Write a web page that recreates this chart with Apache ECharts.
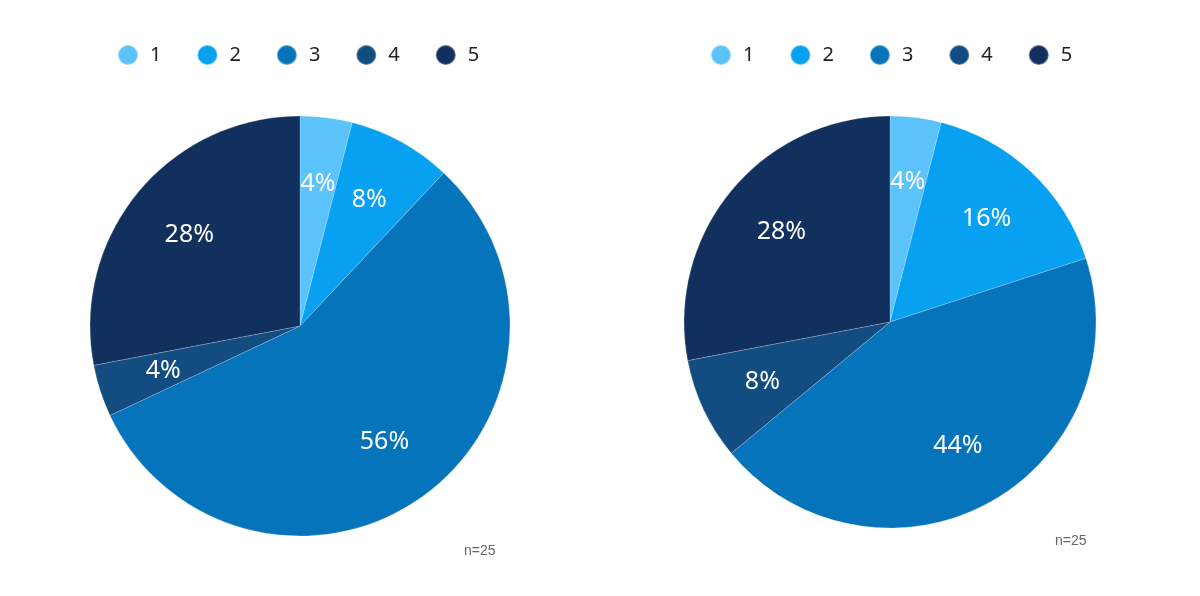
<!doctype html>
<html>
<head>
<meta charset="utf-8">
<style>
	html, body { margin: 0; padding: 0; background: #fff; }
	#chart { width: 1200px; height: 596px; }
</style>
</head>
<body>
<div id="chart"></div>
<script src="https://cdn.jsdelivr.net/npm/echarts@6/dist/echarts.min.js"></script>
<script type="text/javascript">
	var categories = ['1', '2', '3', '4', '5'];
	var colors = ['#5bc2fa', '#08a0f0', '#0674bb', '#134c80', '#12305d'];
	var leftValues = [1, 2, 14, 1, 7];
	var rightValues = [1, 4, 11, 2, 7];
	var sampleNote = 'n=25';

	function toData(values) {
		return values.map(function(v, i) {
			return { name: categories[i], value: v };
		});
	}

	function pieSeries(values, center, radius) {
		// coloured slices
		return [{
			type: 'pie',
			center: center,
			radius: [0, radius],
			startAngle: 90,
			clockwise: true,
			data: toData(values),
			label: { show: false },
			labelLine: { show: false },
			itemStyle: { borderColor: 'rgba(255,255,255,0.35)', borderWidth: 0.6 },
			emphasis: { disabled: true }
		}, {
			// transparent ring only used to place the labels further out
			type: 'pie',
			center: center,
			radius: [radius * 0.34, radius],
			startAngle: 90,
			clockwise: true,
			silent: true,
			data: toData(values),
			itemStyle: { color: 'rgba(0,0,0,0)' },
			label: {
				show: true,
				position: 'inside',
				formatter: '{d}%',
				color: '#fff',
				fontSize: 25,
				fontFamily: 'Noto Sans'
			},
			labelLine: { show: false },
			emphasis: { disabled: true }
		}];
	}

	var myChart = echarts.init(document.getElementById('chart'));
	var legendBase = {
		data: categories,
		icon: 'circle',
		itemWidth: 20,
		itemHeight: 20,
		itemGap: 35,
		top: 44,
		padding: 0,
		selectedMode: false,
		textStyle: { fontSize: 20, color: '#222', fontFamily: 'Noto Sans', padding: [0, 0, 0, 7] }
	};
	var noteStyle = { fontSize: 14, fontWeight: 'normal', color: '#666', fontFamily: 'Liberation Sans' };
	var option = {
		color: colors,
		animation: false,
		legend: [
			Object.assign({}, legendBase, { left: 117, seriesIndex: [0] }),
			Object.assign({}, legendBase, { left: 710, seriesIndex: [2] })
		],
		title: [
			{ text: sampleNote, left: 464, top: 544, padding: 0, textStyle: noteStyle },
			{ text: sampleNote, left: 1055, top: 534, padding: 0, textStyle: noteStyle }
		],
		series: pieSeries(leftValues, [300, 326], 210)
			.concat(pieSeries(rightValues, [890, 322], 206))
	};
	myChart.setOption(option);
</script>
</body>
</html>
